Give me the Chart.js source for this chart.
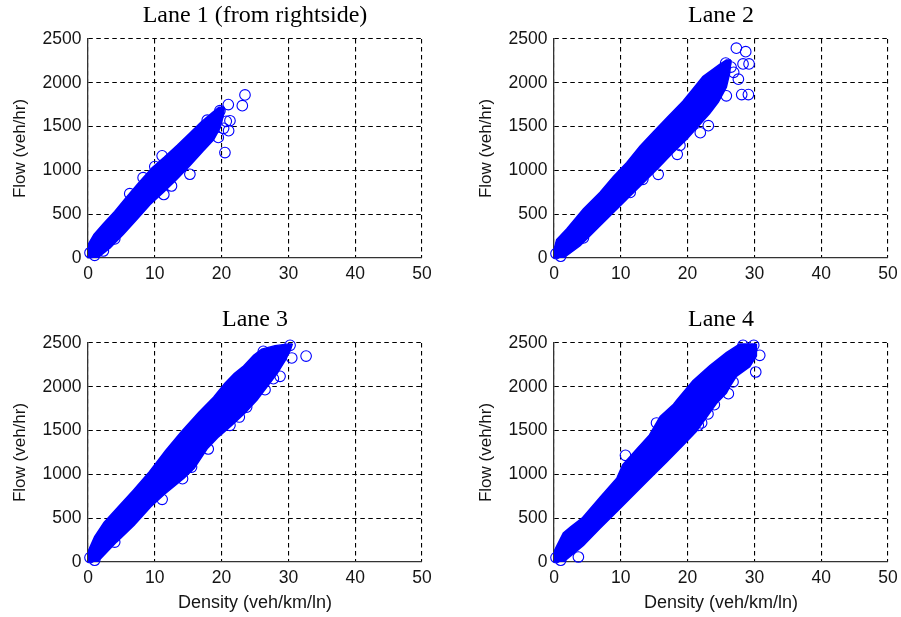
<!DOCTYPE html>
<html><head><meta charset="utf-8">
<script src="https://cdn.jsdelivr.net/npm/chart.js@4.4.1/dist/chart.umd.min.js"></script>
<style>
html,body{margin:0;padding:0;background:#fff;}
body{width:901px;height:617px;position:relative;overflow:hidden;}
.box{position:absolute;width:436px;height:310px;}
</style></head><body>
<div class="box" style="left:0px;top:0px"><canvas id="c1" width="436" height="310"></canvas></div>
<div class="box" style="left:466px;top:0px"><canvas id="c2" width="436" height="310"></canvas></div>
<div class="box" style="left:0px;top:304px"><canvas id="c3" width="436" height="310"></canvas></div>
<div class="box" style="left:466px;top:304px"><canvas id="c4" width="436" height="310"></canvas></div>
<script>
const titles = ['Lane 1 (from rightside)', 'Lane 2', 'Lane 3', 'Lane 4'];
const xTicks = [0, 10, 20, 30, 40, 50];
const yTicks = [0, 500, 1000, 1500, 2000, 2500];
const xLabel = 'Density (veh/km/ln)';
const yLabel = 'Flow (veh/hr)';

// dense core of each scatter cloud: upper-left and lower-right edges [density, flow]
const lane1Upper = [[0,0],[0,150],[0.9,270],[2.3,390],[4,530],[5.6,680],[7.6,860],[9.6,1030],[11.4,1150],[13.4,1290],[15.3,1430],[16.9,1550],[18.4,1645],[19.6,1720],[20.4,1720]];
const lane1Lower = [[0,0],[1.4,0],[3.3,115],[5.3,270],[7.3,440],[9.3,610],[11.3,750],[13.3,900],[15.2,1050],[17.2,1220],[18.8,1350],[19.8,1490],[20.3,1640],[20.4,1720]];
const lane1Points = [[23.5,1862],[23.1,1739],[21,1751],[19.75,1682],[21.05,1453],[21.25,1567],[20.5,1204],[15.25,956],[12.5,822],[4,218],[19.5,1376],[8.25,917],[11.1,1166],[10,1044],[6.25,734],[20.7,1560],[20.3,1480],[17.85,1573],[11.35,725],[0.3,60],[1,30],[2.3,80]];

const lane2Upper = [[0,0],[0,100],[0.4,210],[1.9,330],[4.4,560],[6.9,750],[8.9,930],[10.9,1090],[12.9,1280],[14.9,1440],[16.9,1600],[19.3,1790],[20.8,1930],[22.3,2070],[24.8,2210],[25.8,2260],[26.5,2260]];
const lane2Lower = [[0,0],[1.4,0],[3.9,140],[6.4,330],[8.9,520],[10.9,670],[13.4,860],[15.9,1050],[17.9,1210],[19.9,1360],[21.8,1520],[23.3,1650],[24.6,1780],[25.8,1950],[26.3,2110],[26.5,2260]];
const lane2Points = [[27.3,2395],[28.7,2355],[29.2,2216],[28.3,2216],[27.6,2041],[28.1,1866],[29.1,1866],[25.8,1851],[25.7,2225],[26.5,2180],[23.1,1510],[21.9,1430],[18.45,1184],[15.6,955],[13.3,898],[18.85,1285],[4.4,229],[26.9,2120],[11.4,749],[0.3,50],[1,20]];

const lane3Upper = [[0,0],[0,120],[1,290],[2.4,450],[4.3,610],[6.8,820],[9.2,1030],[11.6,1270],[14,1490],[16.6,1710],[18.8,1880],[20.5,2040],[21.9,2150],[23.2,2230],[24.8,2360],[26,2430],[28,2470],[30,2490],[30.6,2490]];
const lane3Lower = [[0,0],[1.4,0],[4.3,230],[6.9,420],[9.4,630],[11.4,770],[14.4,960],[15.9,1070],[17.9,1300],[19.4,1420],[21.5,1560],[23.5,1700],[25.3,1850],[26.8,2000],[28.3,2150],[29.5,2300],[30.3,2420],[30.6,2490]];
const lane3Points = [[26.25,2405],[32.65,2351],[30.25,2473],[26.5,1967],[27.75,2093],[21.25,1560],[22.65,1655],[15.5,1084],[14.15,951],[11.1,715],[4,228],[18,1290],[23.75,1769],[30.5,2329],[28.75,2120],[0.3,50],[1,20]];

const lane4Upper = [[0,0],[0,120],[1.4,330],[2.5,400],[4.2,500],[6.9,740],[9.4,955],[10.3,1110],[12.4,1290],[14.3,1450],[15.9,1660],[17.9,1800],[18.4,1850],[20.8,2070],[23.3,2240],[25.8,2390],[27.8,2490],[30.3,2490]];
const lane4Lower = [[0,0],[1.4,0],[4.4,190],[6.9,385],[9.4,575],[11.9,765],[14.4,955],[16.9,1145],[19.4,1340],[21.3,1490],[22.8,1650],[24.3,1810],[25.8,1930],[26.3,2000],[27.3,2120],[29.3,2230],[30.3,2350],[30.3,2490]];
const lane4Points = [[28.3,2473],[29.9,2473],[30.8,2359],[30.2,2169],[26.1,1921],[26.8,2055],[24,1796],[21.6,1560],[15.35,1587],[10.7,1218],[13.9,1008],[3.65,57],[12.1,894],[23.05,1690],[22.1,1587],[0.3,50],[1,20]];

const BLUE = '#0000ff';
const TXT = '#151515';
Chart.defaults.font.family = '"Liberation Sans", Arial, sans-serif';

function makeChart(id, title, upper, lower, pts, showX) {
  const toXY = a => a.map(p => ({x: p[0], y: p[1]}));
  new Chart(document.getElementById(id), {
    type: 'scatter',
    data: {
      datasets: [
        {type: 'line', data: toXY(upper), fill: '+1', backgroundColor: BLUE, borderColor: BLUE, borderWidth: 1.5, pointRadius: 0, tension: 0},
        {type: 'line', data: toXY(lower), fill: false, backgroundColor: BLUE, borderColor: BLUE, borderWidth: 1.5, pointRadius: 0, tension: 0},
        {type: 'scatter', data: toXY(pts), pointStyle: 'circle', pointRadius: 5.3, borderWidth: 1.1, borderColor: BLUE, backgroundColor: 'rgba(0,0,0,0)', clip: false}
      ]
    },
    options: {
      responsive: false,
      animation: false,
      events: [],
      layout: {padding: {left: 0, top: 0, right: 14, bottom: 0}},
      plugins: {
        legend: {display: false},
        tooltip: {enabled: false},
        title: {display: true, fullSize: false, text: title, color: '#000', font: {family: '"Liberation Serif", "Times New Roman", serif', size: 24, weight: 'normal'}, padding: {top: 1.5, bottom: 8.7}}
      },
      scales: {
        x: {
          type: 'linear', min: 0, max: 50,
          afterBuildTicks: s => { s.ticks = xTicks.map(v => ({value: v})); },
          afterFit: s => { s.height = 52; s.paddingLeft = 0; s.paddingRight = 0; },
          ticks: {padding: 5.5, color: TXT, font: {size: 17.5}, maxRotation: 0, autoSkip: false, callback: v => String(v)},
          grid: {color: '#000', lineWidth: 1.1, drawTicks: false},
          border: {display: true, color: '#333', width: 1.3, dash: [4.5, 3.5]},
          title: {display: showX, text: xLabel, color: TXT, font: {size: 18}, padding: {top: 0, bottom: 0}}
        },
        y: {
          type: 'linear', min: 0, max: 2500,
          afterBuildTicks: s => { s.ticks = yTicks.map(v => ({value: v})); },
          afterFit: s => { s.width = 88; s.paddingTop = 0; s.paddingBottom = 0; },
          ticks: {padding: 6.5, color: TXT, font: {size: 17.5}, autoSkip: false, callback: v => String(v)},
          grid: {color: '#000', lineWidth: 1.1, drawTicks: false},
          border: {display: true, color: '#333', width: 1.3, dash: [4.5, 3.5]},
          title: {display: true, text: yLabel, color: TXT, font: {size: 17}, padding: {top: 10.3, bottom: 0}}
        }
      }
    }
  });
}

makeChart('c1', titles[0], lane1Upper, lane1Lower, lane1Points, false);
makeChart('c2', titles[1], lane2Upper, lane2Lower, lane2Points, false);
makeChart('c3', titles[2], lane3Upper, lane3Lower, lane3Points, true);
makeChart('c4', titles[3], lane4Upper, lane4Lower, lane4Points, true);
</script>
</body></html>
